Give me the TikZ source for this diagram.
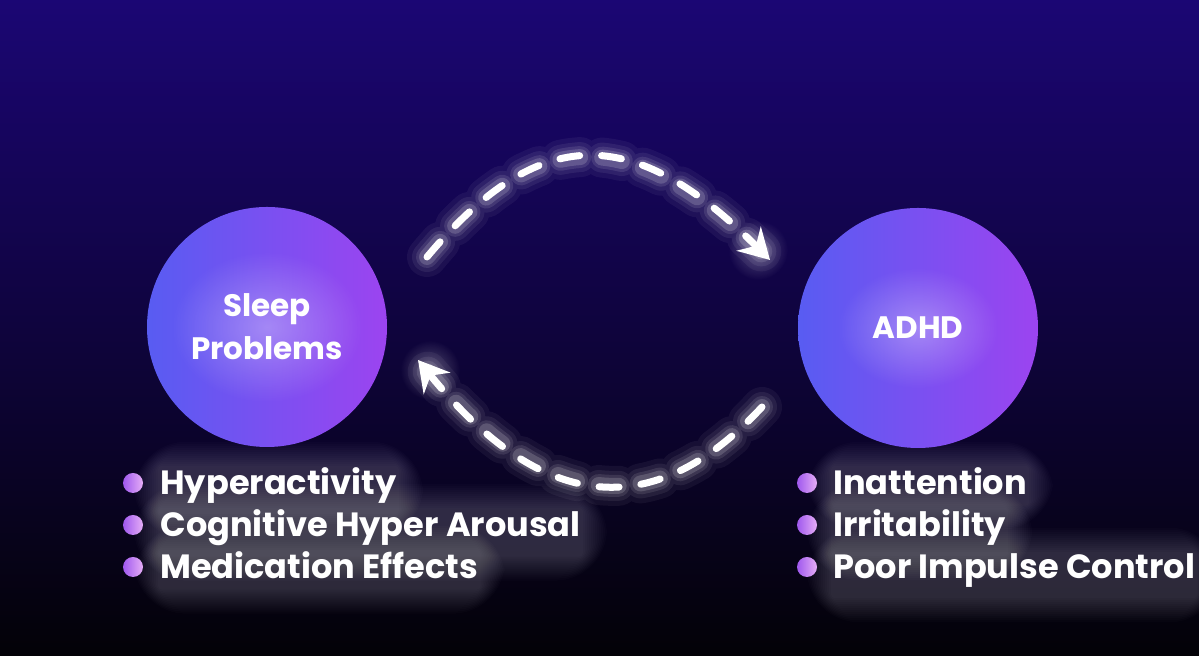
\documentclass[tikz,border=0pt]{standalone}
\usepackage{fontspec}
\setmainfont{Poppins}
\usetikzlibrary{arrows.meta,fadings}

\definecolor{bgtop}{HTML}{1B0674}
\definecolor{bgmid}{HTML}{0A0332}
\definecolor{bgbot}{HTML}{030207}
\definecolor{orbblue}{HTML}{585CF2}
\definecolor{orbviolet}{HTML}{9C44F0}
\definecolor{dotpink}{HTML}{E6AEF6}
\definecolor{dotviolet}{HTML}{9F58EE}

\pgfdeclarelayer{back}
\pgfdeclarelayer{haze}
\pgfsetlayers{back,haze,main}

\tikzfading[name=softglow, inner color=transparent!20, outer color=transparent!100]

\tikzset{
  orb/.style={circle, minimum size=120pt, inner sep=0pt, left color=orbblue,
    right color=orbviolet},
  orbtext/.style={text=white, align=center, font=\bfseries\fontsize{15.5}{21.5}\selectfont},
  dot/.style={circle, minimum size=10pt, inner sep=0pt, shading angle=60,
    left color=dotviolet, right color=dotpink},
  item/.style={anchor=base west, inner sep=0pt, text=white,
    font=\bfseries\fontsize{16.8}{18}\selectfont},
  haze/.style={white, opacity=0.016},
  flow/.style={white, line width=3.5pt, line cap=round, dash pattern=on 10pt off 11pt},
  flowglow/.style={white, line cap=round, dash pattern=on 10pt off 11pt},
  tip/.style={-{Stealth[length=15pt, width=17pt, inset=5pt]}}
}

\begin{document}
\begin{tikzpicture}[x=0.5pt, y=0.5pt]
  \useasboundingbox (0,0) rectangle (1199,656);
  \begin{pgfonlayer}{back}
    \shade[top color=bgtop, middle color=bgmid, bottom color=bgbot] (0,0) rectangle (1199,656);
  \end{pgfonlayer}

  % the two states
  \node[orb] (S) at (267,329) {};
  \node[orb] (A) at (918,328) {};
  \fill[white, path fading=softglow, opacity=0.4] (S.center) ellipse (95 and 75);
  \fill[white, path fading=softglow, opacity=0.4] (A.center) ellipse (80 and 60);
  \node[orbtext] (Slabel) at (S.center) {Sleep\\Problems};
  \node[orbtext] (Alabel) at (A.center) {ADHD};

  % cycle
  \coordinate (t0) at (427,399); \coordinate (t1) at (770,396);
  \coordinate (b0) at (762,249); \coordinate (b1) at (418,296);
  \foreach \w/\o in {20pt/0.05,15pt/0.07,11pt/0.1,8pt/0.16} {
    \draw[flowglow, line width=\w, opacity=\o] (t0) .. controls (539,533) and (633,533) .. (t1);
    \draw[flowglow, line width=\w, opacity=\o] (b0) .. controls (658,137) and (547,137) .. (b1);
  }
  \fill[white, path fading=softglow, opacity=0.35] (t1) ++(-12,10) circle (30);
  \fill[white, path fading=softglow, opacity=0.35] (b1) ++(12,-10) circle (30);
  \draw[flow, tip] (t0) .. controls (539,533) and (633,533) .. (t1);
  \draw[flow, tip] (b0) .. controls (658,137) and (547,137) .. (b1);

  % symptom lists
  \node[dot] (d1) at (133,173) {}; \node[item] (h1) at (160,161) {Hyperactivity};
  \node[dot] (d2) at (133,131) {}; \node[item] (h2) at (160,119) {Cognitive Hyper Arousal};
  \node[dot] (d3) at (133,89) {};  \node[item] (h3) at (160,77) {Medication Effects};
  \node[dot] (e1) at (807,173) {}; \node[item] (i1) at (833,161) {Inattention};
  \node[dot] (e2) at (807,131) {}; \node[item] (i2) at (833,119) {Irritability};
  \node[dot] (e3) at (807,89) {};  \node[item] (i3) at (833,77) {Poor Impulse Control};

  % glow round the list texts
  \begin{pgfonlayer}{haze}
    \foreach \n in {h1,h2,h3,i1,i2,i3} {
      \foreach \p in {2,4,...,26}
        \fill[haze, rounded corners=\p] ([shift={(-\p,-\p-8)}]\n.south west)
          rectangle ([shift={(\p,\p)}]\n.north east);
    }
  \end{pgfonlayer}
\end{tikzpicture}
\end{document}
